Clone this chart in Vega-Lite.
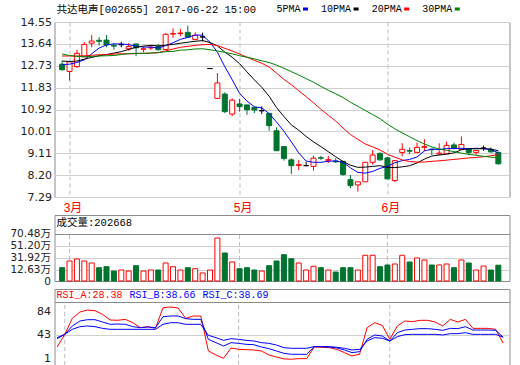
{
"$schema": "https://vega.github.io/schema/vega-lite/v6.json",
"background": "#ffffff",
"padding": {"left": 8.5, "top": 3, "right": 0, "bottom": 0},
"bounds": "flush",
"spacing": 18,
"resolve": {"scale": {"x": "independent", "y": "independent", "color": "independent"}, "legend": {"color": "independent"}},
"config": {
  "view": {"stroke": "#8c8c8c", "strokeWidth": 1},
  "axis": {"labelFont": "DejaVu Sans, Noto Sans CJK SC", "labelFontSize": 11, "labelColor": "#222222", "domain": false, "ticks": false, "gridColor": "#cfcfcf", "gridWidth": 1, "labelOverlap": false},
  "legend": {"padding": 0}
},
"datasets": {
  "months": [{"i": 1, "m": "3月"}, {"i": 24, "m": "5月"}, {"i": 44, "m": "6月"}],
  "k": [
{"i":0,"o":12.80,"h":12.94,"l":12.53,"c":12.57,"v":16.3,"5PMA":12.78,"10PMA":12.93,"20PMA":13.14,"30PMA":13.22,"RSI_A":21.7,"RSI_B":36.1,"RSI_C":37.9},
{"i":1,"o":12.50,"h":12.94,"l":12.12,"c":12.90,"v":27.0,"5PMA":12.80,"10PMA":12.91,"20PMA":13.14,"30PMA":13.16,"RSI_A":43.6,"RSI_B":43.6,"RSI_C":43.6},
{"i":2,"o":12.70,"h":13.40,"l":12.64,"c":13.25,"v":30.2,"5PMA":12.87,"10PMA":12.93,"20PMA":13.14,"30PMA":13.12,"RSI_A":71.3,"RSI_B":58.1,"RSI_C":52.3},
{"i":3,"o":13.11,"h":13.71,"l":13.10,"c":13.62,"v":27.0,"5PMA":12.98,"10PMA":13.01,"20PMA":13.15,"30PMA":13.11,"RSI_A":82.3,"RSI_B":66.7,"RSI_C":56.9},
{"i":4,"o":13.67,"h":14.01,"l":13.50,"c":13.76,"v":23.8,"5PMA":13.23,"10PMA":13.08,"20PMA":13.17,"30PMA":13.12,"RSI_A":85.8,"RSI_B":69.0,"RSI_C":58.1},
{"i":5,"o":13.79,"h":13.92,"l":13.57,"c":13.75,"v":16.3,"5PMA":13.47,"10PMA":13.15,"20PMA":13.19,"30PMA":13.14,"RSI_A":84.6,"RSI_B":69.0,"RSI_C":56.9},
{"i":6,"o":13.80,"h":14.01,"l":13.50,"c":13.60,"v":17.9,"5PMA":13.60,"10PMA":13.20,"20PMA":13.20,"30PMA":13.15,"RSI_A":78.3,"RSI_B":65.0,"RSI_C":54.0},
{"i":7,"o":13.58,"h":13.68,"l":13.40,"c":13.55,"v":11.0,"5PMA":13.64,"10PMA":13.26,"20PMA":13.22,"30PMA":13.16,"RSI_A":68.5,"RSI_B":61.0,"RSI_C":52.3},
{"i":8,"o":13.61,"h":13.73,"l":13.50,"c":13.61,"v":12.6,"5PMA":13.64,"10PMA":13.32,"20PMA":13.23,"30PMA":13.20,"RSI_A":67.9,"RSI_B":61.5,"RSI_C":52.3},
{"i":9,"o":13.44,"h":13.67,"l":13.36,"c":13.53,"v":11.0,"5PMA":13.61,"10PMA":13.41,"20PMA":13.23,"30PMA":13.24,"RSI_A":69.6,"RSI_B":61.0,"RSI_C":52.3},
{"i":10,"o":13.64,"h":13.64,"l":13.13,"c":13.48,"v":19.5,"5PMA":13.55,"10PMA":13.50,"20PMA":13.24,"30PMA":13.25,"RSI_A":63.8,"RSI_B":56.9,"RSI_C":52.3},
{"i":11,"o":13.42,"h":13.53,"l":13.29,"c":13.44,"v":11.0,"5PMA":13.51,"10PMA":13.55,"20PMA":13.25,"30PMA":13.25,"RSI_A":55.2,"RSI_B":55.2,"RSI_C":52.3},
{"i":12,"o":13.47,"h":13.60,"l":13.39,"c":13.50,"v":12.6,"5PMA":13.51,"10PMA":13.58,"20PMA":13.26,"30PMA":13.26,"RSI_A":56.9,"RSI_B":56.3,"RSI_C":52.3},
{"i":13,"o":13.53,"h":13.64,"l":13.36,"c":13.40,"v":12.6,"5PMA":13.47,"10PMA":13.56,"20PMA":13.28,"30PMA":13.28,"RSI_A":54.0,"RSI_B":55.2,"RSI_C":52.3},
{"i":14,"o":13.41,"h":14.09,"l":13.41,"c":14.04,"v":23.8,"5PMA":13.57,"10PMA":13.59,"20PMA":13.35,"30PMA":13.32,"RSI_A":89.8,"RSI_B":74.2,"RSI_C":61.0},
{"i":15,"o":14.05,"h":14.29,"l":13.89,"c":14.07,"v":17.9,"5PMA":13.69,"10PMA":13.62,"20PMA":13.43,"30PMA":13.33,"RSI_A":91.0,"RSI_B":75.4,"RSI_C":63.8},
{"i":16,"o":14.07,"h":14.26,"l":13.96,"c":14.09,"v":12.6,"5PMA":13.83,"10PMA":13.67,"20PMA":13.50,"30PMA":13.38,"RSI_A":89.3,"RSI_B":75.4,"RSI_C":63.8},
{"i":17,"o":14.12,"h":14.40,"l":13.92,"c":13.92,"v":16.3,"5PMA":13.91,"10PMA":13.71,"20PMA":13.54,"30PMA":13.40,"RSI_A":71.3,"RSI_B":70.8,"RSI_C":61.0},
{"i":18,"o":13.82,"h":14.12,"l":13.82,"c":14.00,"v":14.7,"5PMA":14.01,"10PMA":13.75,"20PMA":13.58,"30PMA":13.43,"RSI_A":75.4,"RSI_B":69.6,"RSI_C":61.0},
{"i":19,"o":13.93,"h":14.11,"l":13.74,"c":13.93,"v":7.9,"5PMA":14.00,"10PMA":13.78,"20PMA":13.61,"30PMA":13.44,"RSI_A":75.4,"RSI_B":69.6,"RSI_C":61.0},
{"i":20,"o":12.62,"h":12.62,"l":12.62,"c":12.62,"v":12.6,"5PMA":13.71,"10PMA":13.70,"20PMA":13.62,"30PMA":13.40,"RSI_A":14.8,"RSI_B":35.0,"RSI_C":41.9},
{"i":21,"o":11.38,"h":12.43,"l":11.38,"c":12.02,"v":63.6,"5PMA":13.30,"10PMA":13.56,"20PMA":13.57,"30PMA":13.35,"RSI_A":7.8,"RSI_B":29.2,"RSI_C":37.9},
{"i":22,"o":11.56,"h":11.63,"l":10.77,"c":10.83,"v":39.7,"5PMA":12.70,"10PMA":13.30,"20PMA":13.46,"30PMA":13.29,"RSI_A":2.1,"RSI_B":23.4,"RSI_C":33.2},
{"i":23,"o":10.73,"h":11.38,"l":10.64,"c":11.31,"v":25.4,"5PMA":12.16,"10PMA":13.09,"20PMA":13.35,"30PMA":13.23,"RSI_A":20.0,"RSI_B":29.2,"RSI_C":36.1},
{"i":24,"o":11.15,"h":11.36,"l":10.83,"c":11.04,"v":14.7,"5PMA":11.59,"10PMA":12.82,"20PMA":13.22,"30PMA":13.15,"RSI_A":17.6,"RSI_B":28.0,"RSI_C":35.0},
{"i":25,"o":11.11,"h":11.11,"l":10.70,"c":10.91,"v":16.3,"5PMA":11.27,"10PMA":12.48,"20PMA":13.09,"30PMA":13.09,"RSI_A":17.1,"RSI_B":26.3,"RSI_C":33.2},
{"i":26,"o":11.01,"h":11.01,"l":10.77,"c":10.90,"v":12.6,"5PMA":11.03,"10PMA":12.15,"20PMA":12.96,"30PMA":13.02,"RSI_A":16.5,"RSI_B":25.7,"RSI_C":32.1},
{"i":27,"o":10.87,"h":11.05,"l":10.73,"c":10.87,"v":11.0,"5PMA":10.99,"10PMA":11.84,"20PMA":12.84,"30PMA":12.94,"RSI_A":14.8,"RSI_B":21.7,"RSI_C":29.2},
{"i":28,"o":10.76,"h":10.76,"l":10.04,"c":10.25,"v":19.5,"5PMA":10.75,"10PMA":11.47,"20PMA":12.68,"30PMA":12.87,"RSI_A":7.8,"RSI_B":18.8,"RSI_C":28.0},
{"i":29,"o":10.04,"h":10.18,"l":9.21,"c":9.21,"v":27.0,"5PMA":10.40,"10PMA":11.00,"20PMA":12.43,"30PMA":12.76,"RSI_A":4.4,"RSI_B":14.8,"RSI_C":25.1},
{"i":30,"o":9.38,"h":9.38,"l":8.80,"c":8.89,"v":37.0,"5PMA":10.02,"10PMA":10.63,"20PMA":12.17,"30PMA":12.63,"RSI_A":1.0,"RSI_B":10.7,"RSI_C":20.5},
{"i":31,"o":8.83,"h":8.90,"l":8.24,"c":8.59,"v":30.6,"5PMA":9.58,"10PMA":10.28,"20PMA":11.95,"30PMA":12.49,"RSI_A":0.5,"RSI_B":9.0,"RSI_C":19.4},
{"i":32,"o":8.60,"h":8.83,"l":8.41,"c":8.63,"v":23.8,"5PMA":9.12,"10PMA":10.06,"20PMA":11.70,"30PMA":12.35,"RSI_A":1.5,"RSI_B":9.0,"RSI_C":19.4},
{"i":33,"o":8.59,"h":8.75,"l":8.59,"c":8.59,"v":12.6,"5PMA":8.78,"10PMA":9.80,"20PMA":11.45,"30PMA":12.20,"RSI_A":1.5,"RSI_B":9.0,"RSI_C":19.4},
{"i":34,"o":8.56,"h":9.00,"l":8.38,"c":8.90,"v":18.5,"5PMA":8.73,"10PMA":9.58,"20PMA":11.20,"30PMA":12.05,"RSI_A":21.7,"RSI_B":22.3,"RSI_C":22.3},
{"i":35,"o":8.92,"h":9.00,"l":8.83,"c":8.90,"v":16.3,"5PMA":8.73,"10PMA":9.38,"20PMA":10.93,"30PMA":11.88,"RSI_A":21.1,"RSI_B":22.3,"RSI_C":22.3},
{"i":36,"o":8.81,"h":9.00,"l":8.70,"c":8.84,"v":12.6,"5PMA":8.77,"10PMA":9.17,"20PMA":10.68,"30PMA":11.72,"RSI_A":20.5,"RSI_B":21.7,"RSI_C":22.3},
{"i":37,"o":8.78,"h":8.90,"l":8.70,"c":8.75,"v":9.4,"5PMA":8.79,"10PMA":8.96,"20PMA":10.44,"30PMA":11.57,"RSI_A":17.6,"RSI_B":20.0,"RSI_C":21.1},
{"i":38,"o":8.77,"h":8.77,"l":8.18,"c":8.22,"v":16.3,"5PMA":8.73,"10PMA":8.76,"20PMA":10.15,"30PMA":11.42,"RSI_A":11.9,"RSI_B":16.5,"RSI_C":19.4},
{"i":39,"o":8.01,"h":8.20,"l":7.66,"c":7.76,"v":16.3,"5PMA":8.50,"10PMA":8.61,"20PMA":9.88,"30PMA":11.22,"RSI_A":6.1,"RSI_B":11.9,"RSI_C":16.5},
{"i":40,"o":7.79,"h":7.92,"l":7.51,"c":7.92,"v":12.6,"5PMA":8.31,"10PMA":8.52,"20PMA":9.68,"30PMA":11.05,"RSI_A":9.0,"RSI_B":13.6,"RSI_C":17.6},
{"i":41,"o":7.92,"h":8.74,"l":7.91,"c":8.73,"v":36.1,"5PMA":8.28,"10PMA":8.53,"20PMA":9.49,"30PMA":10.88,"RSI_A":55.2,"RSI_B":35.0,"RSI_C":32.1},
{"i":42,"o":8.73,"h":9.24,"l":8.63,"c":9.03,"v":36.1,"5PMA":8.35,"10PMA":8.56,"20PMA":9.37,"30PMA":10.71,"RSI_A":63.8,"RSI_B":42.5,"RSI_C":37.9},
{"i":43,"o":9.10,"h":9.14,"l":8.80,"c":8.83,"v":17.9,"5PMA":8.48,"10PMA":8.59,"20PMA":9.24,"30PMA":10.54,"RSI_A":59.2,"RSI_B":40.7,"RSI_C":36.7},
{"i":44,"o":8.91,"h":8.95,"l":8.04,"c":8.04,"v":20.6,"5PMA":8.56,"10PMA":8.52,"20PMA":9.06,"30PMA":10.31,"RSI_A":35.0,"RSI_B":32.1,"RSI_C":32.1},
{"i":45,"o":7.97,"h":8.80,"l":7.91,"c":8.80,"v":22.2,"5PMA":8.71,"10PMA":8.51,"20PMA":8.94,"30PMA":10.12,"RSI_A":58.1,"RSI_B":46.5,"RSI_C":39.6},
{"i":46,"o":9.14,"h":9.52,"l":8.98,"c":9.27,"v":36.1,"5PMA":8.80,"10PMA":8.54,"20PMA":8.83,"30PMA":9.95,"RSI_A":66.7,"RSI_B":51.1,"RSI_C":43.1},
{"i":47,"o":9.22,"h":9.34,"l":9.07,"c":9.19,"v":25.4,"5PMA":8.85,"10PMA":8.59,"20PMA":8.76,"30PMA":9.79,"RSI_A":65.6,"RSI_B":52.3,"RSI_C":43.6},
{"i":48,"o":9.14,"h":9.55,"l":9.14,"c":9.35,"v":31.8,"5PMA":8.95,"10PMA":8.70,"20PMA":8.74,"30PMA":9.63,"RSI_A":67.9,"RSI_B":53.5,"RSI_C":43.6},
{"i":49,"o":9.35,"h":9.69,"l":9.20,"c":9.38,"v":28.6,"5PMA":9.20,"10PMA":8.86,"20PMA":8.74,"30PMA":9.49,"RSI_A":67.9,"RSI_B":53.5,"RSI_C":43.6},
{"i":50,"o":9.27,"h":9.27,"l":9.03,"c":9.25,"v":20.6,"5PMA":9.28,"10PMA":8.99,"20PMA":8.77,"30PMA":9.37,"RSI_A":65.0,"RSI_B":52.3,"RSI_C":43.6},
{"i":51,"o":9.08,"h":9.52,"l":9.03,"c":9.11,"v":20.6,"5PMA":9.26,"10PMA":9.03,"20PMA":8.79,"30PMA":9.28,"RSI_A":58.1,"RSI_B":50.6,"RSI_C":42.5},
{"i":52,"o":9.08,"h":9.59,"l":9.08,"c":9.43,"v":22.2,"5PMA":9.30,"10PMA":9.07,"20PMA":8.82,"30PMA":9.23,"RSI_A":69.6,"RSI_B":54.0,"RSI_C":44.8},
{"i":53,"o":9.45,"h":9.54,"l":9.28,"c":9.30,"v":16.3,"5PMA":9.30,"10PMA":9.12,"20PMA":8.85,"30PMA":9.17,"RSI_A":65.0,"RSI_B":53.5,"RSI_C":44.8},
{"i":54,"o":9.27,"h":9.80,"l":9.27,"c":9.47,"v":28.6,"5PMA":9.31,"10PMA":9.25,"20PMA":8.88,"30PMA":9.11,"RSI_A":69.6,"RSI_B":56.9,"RSI_C":46.5},
{"i":55,"o":9.28,"h":9.28,"l":9.03,"c":9.14,"v":23.8,"5PMA":9.29,"10PMA":9.29,"20PMA":8.91,"30PMA":9.06,"RSI_A":54.0,"RSI_B":51.1,"RSI_C":43.6},
{"i":56,"o":9.14,"h":9.22,"l":9.04,"c":9.22,"v":12.6,"5PMA":9.31,"10PMA":9.29,"20PMA":8.93,"30PMA":9.02,"RSI_A":54.0,"RSI_B":51.1,"RSI_C":43.6},
{"i":57,"o":9.32,"h":9.42,"l":9.21,"c":9.32,"v":19.0,"5PMA":9.29,"10PMA":9.30,"20PMA":8.96,"30PMA":8.98,"RSI_A":54.0,"RSI_B":51.1,"RSI_C":43.6},
{"i":58,"o":9.25,"h":9.35,"l":9.14,"c":9.16,"v":12.6,"5PMA":9.26,"10PMA":9.28,"20PMA":9.00,"30PMA":8.94,"RSI_A":52.3,"RSI_B":50.6,"RSI_C":43.6},
{"i":59,"o":9.14,"h":9.18,"l":8.63,"c":8.67,"v":20.27,"5PMA":9.12,"10PMA":9.21,"20PMA":9.05,"30PMA":8.92,"RSI_A":28.38,"RSI_B":38.66,"RSI_C":38.69}
  ]
},
"vconcat": [
  {
    "width": 455, "height": 175,
    "data": {"name": "k"},
    "layer": [
      {
        "mark": {"type": "rule", "strokeWidth": 1},
        "encoding": {
          "x": {"field": "i", "type": "quantitative", "scale": {"domain": [-0.357, 59.833], "nice": false, "zero": false},
                "axis": {"values": [1, 24, 44], "labelExpr": "datum.value == 1 ? '3月' : datum.value == 24 ? '5月' : '6月'", "labelColor": "#ff0000", "labelFont": "Liberation Sans, Noto Sans CJK SC", "labelFontSize": 12, "labelPadding": 5, "labelOffset": 3, "grid": true, "gridDash": [4, 3], "gridColor": "#bbbbbb", "title": null}},
          "y": {"field": "l", "type": "quantitative", "scale": {"domain": [7.29, 14.55], "nice": false, "zero": false},
                "axis": {"values": [7.29, 8.2, 9.11, 10.01, 10.92, 11.83, 12.73, 13.64, 14.55], "format": ".2f", "title": null, "labelPadding": 3, "grid": true, "labelOverlap": false}},
          "y2": {"field": "h"},
          "color": {"condition": [{"test": "datum.c > datum.o", "value": "#ff0000"}, {"test": "datum.c < datum.o", "value": "#00732f"}], "value": "#000000"}
        }
      },
      {
        "mark": {"type": "bar", "width": 5, "strokeWidth": 1},
        "encoding": {
          "x": {"field": "i", "type": "quantitative"},
          "y": {"field": "o", "type": "quantitative",
                "axis": {"values": [7.29, 8.2, 9.11, 10.01, 10.92, 11.83, 12.73, 13.64, 14.55], "format": ".2f", "title": null, "labelPadding": 3, "grid": true, "labelOverlap": false}},
          "y2": {"field": "c"},
          "fill": {"condition": [{"test": "datum.c > datum.o", "value": "#ffffff"}, {"test": "datum.c < datum.o", "value": "#00732f"}], "value": "#000000"},
          "stroke": {"condition": [{"test": "datum.c > datum.o", "value": "#ff0000"}, {"test": "datum.c < datum.o", "value": "#00732f"}], "value": "#000000"}
        }
      },
      {
        "transform": [{"fold": ["5PMA", "10PMA", "20PMA", "30PMA"], "as": ["k", "val"]}],
        "mark": {"type": "line", "strokeWidth": 1},
        "encoding": {
          "x": {"field": "i", "type": "quantitative"},
          "y": {"field": "val", "type": "quantitative",
                "axis": {"values": [7.29, 8.2, 9.11, 10.01, 10.92, 11.83, 12.73, 13.64, 14.55], "format": ".2f", "title": null, "labelPadding": 3, "grid": true, "labelOverlap": false}},
          "color": {"field": "k", "type": "nominal",
            "scale": {"domain": ["5PMA", "10PMA", "20PMA", "30PMA"], "range": ["#0000ff", "#000000", "#ff0000", "#008000"]},
            "legend": {"orient": "none", "legendX": 2, "legendY": -18, "direction": "horizontal",
              "title": "共达电声[002655] 2017-06-22 15:00", "titleOrient": "left", "titleLimit": 400, "titleFont": "Liberation Mono, Noto Sans CJK SC", "titleFontSize": 10.5, "titleFontWeight": "normal", "titleColor": "#000000", "titlePadding": 20,
              "labelFont": "Liberation Mono", "labelFontSize": 10, "labelColor": "#000000", "labelAlign": "left",
              "symbolType": "stroke", "symbolSize": 25, "symbolStrokeWidth": 3, "columnPadding": 6.6,
              "encode": {"labels": {"update": {"x": {"value": 0}}}, "symbols": {"update": {"x": {"signal": "length(datum.label) * 6 + 5"}}}}}}
        }
      }
    ]
  },
  {
    "bounds": "flush",
    "spacing": 8,
    "resolve": {"scale": {"x": "independent", "y": "independent", "color": "independent"}, "legend": {"color": "independent"}},
    "vconcat": [
      {
        "width": 455, "height": 66,
        "layer": [
          {
            "data": {"name": "months"},
            "mark": {"type": "rule", "strokeDash": [4, 3]},
            "encoding": {
              "x": {"field": "i", "type": "quantitative", "scale": {"domain": [-0.357, 59.833], "nice": false, "zero": false}, "axis": null},
              "y": {"datum": -4.9, "type": "quantitative", "scale": {"domain": [-4.9, 100.27], "nice": false, "zero": false},
                    "axis": {"values": [-4.9, 12.63, 31.92, 51.2, 70.48], "labelExpr": "datum.value < 0 ? '0' : format(datum.value, '.2f') + '万'", "title": null, "labelPadding": 4, "labelFontSize": 10.5, "grid": true, "labelOverlap": false, "gridColor": {"condition": {"test": "datum.value > 70 || datum.value < 0", "value": "#8c8c8c"}, "value": "#cfcfcf"}}},
              "y2": {"datum": 70.48},
              "color": {"datum": "成交量:202668", "type": "nominal", "scale": {"range": ["#bbbbbb"]},
                "legend": {"orient": "none", "legendX": 2, "legendY": 3, "title": null, "symbolSize": 0, "symbolOpacity": 0, "symbolStrokeWidth": 0,
                  "labelFont": "Liberation Mono, Noto Sans CJK SC", "labelFontSize": 10.5, "labelColor": "#000000", "labelLimit": 300,
                  "encode": {"labels": {"update": {"x": {"value": 0}}}, "symbols": {"update": {"x": {"value": 0}}}}}}
            }
          },
          {
            "data": {"name": "k"},
            "mark": {"type": "bar", "width": 5, "strokeWidth": 1},
            "encoding": {
              "x": {"field": "i", "type": "quantitative"},
              "y": {"field": "v", "type": "quantitative",
                    "axis": {"values": [-4.9, 12.63, 31.92, 51.2, 70.48], "labelExpr": "datum.value < 0 ? '0' : format(datum.value, '.2f') + '万'", "title": null, "labelPadding": 4, "labelFontSize": 10.5, "grid": true, "labelOverlap": false, "gridColor": {"condition": {"test": "datum.value > 70 || datum.value < 0", "value": "#8c8c8c"}, "value": "#cfcfcf"}}},
              "y2": {"datum": -4.9},
              "fill": {"condition": {"test": "datum.c >= datum.o", "value": "#ffffff"}, "value": "#00732f"},
              "stroke": {"condition": {"test": "datum.c >= datum.o", "value": "#ff0000"}, "value": "#00732f"}
            }
          }
        ]
      },
      {
        "width": 455, "height": 76,
        "layer": [
          {
            "data": {"name": "months"},
            "mark": {"type": "rule", "strokeDash": [4, 3], "color": "#bbbbbb"},
            "encoding": {
              "x": {"field": "i", "type": "quantitative", "scale": {"domain": [-0.357, 59.833], "nice": false, "zero": false}, "axis": null},
              "y": {"datum": -9.53, "type": "quantitative", "scale": {"domain": [-9.53, 122.2], "nice": false, "zero": false},
                    "axis": {"values": [1, 43, 84, 100], "labelExpr": "datum.value == 100 ? '' : datum.label", "title": null, "labelPadding": 4, "grid": true, "labelOverlap": false,
                             "gridColor": {"condition": {"test": "datum.value == 100", "value": "#8c8c8c"}, "value": "#cfcfcf"},
                             "gridOpacity": {"condition": {"test": "datum.value == 43 || datum.value == 100", "value": 1}, "value": 0}}},
              "y2": {"datum": 100}
            }
          },
          {
            "data": {"name": "k"},
            "transform": [{"fold": ["RSI_A", "RSI_B", "RSI_C"], "as": ["k", "val"]}],
            "mark": {"type": "line", "strokeWidth": 1},
            "encoding": {
              "x": {"field": "i", "type": "quantitative"},
              "y": {"field": "val", "type": "quantitative",
                    "axis": {"values": [1, 43, 84, 100], "labelExpr": "datum.value == 100 ? '' : datum.label", "title": null, "labelPadding": 4, "grid": true, "labelOverlap": false,
                             "gridColor": {"condition": {"test": "datum.value == 100", "value": "#8c8c8c"}, "value": "#cfcfcf"},
                             "gridOpacity": {"condition": {"test": "datum.value == 43 || datum.value == 100", "value": 1}, "value": 0}}},
              "color": {"field": "k", "type": "nominal",
                "scale": {"domain": ["RSI_A", "RSI_B", "RSI_C"], "range": ["#ff0000", "#0000ff", "#0000ff"]},
                "legend": {"orient": "none", "legendX": 2, "legendY": 1, "direction": "horizontal", "title": null,
                  "symbolSize": 0, "symbolOpacity": 0, "symbolStrokeWidth": 0, "labelOffset": 0,
                  "labelFont": "Liberation Mono", "labelFontSize": 10, "columnPadding": 6,
                  "labelExpr": "datum.value == 'RSI_A' ? 'RSI_A:28.38' : datum.value == 'RSI_B' ? 'RSI_B:38.66' : 'RSI_C:38.69'",
                  "encode": {"labels": {"update": {"x": {"value": 0}, "fill": {"signal": "datum.value == 'RSI_A' ? '#ff0000' : '#0000ff'"}}}, "symbols": {"update": {"x": {"value": 0}}}}}}
            }
          }
        ]
      }
    ]
  }
]
}
